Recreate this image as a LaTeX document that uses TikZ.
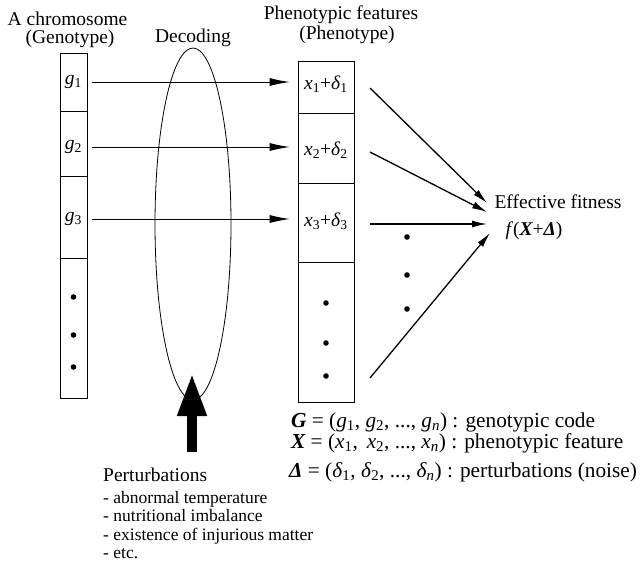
\documentclass[tikz,border=0pt]{standalone}
\usepackage{fontspec}
\setmainfont{Liberation Serif}
\usetikzlibrary{arrows.meta,positioning,shapes.geometric}
\newcommand{\figfont}{\fontsize{19.5}{22}\selectfont}
\newcommand{\legfont}{\fontsize{21.3}{24}\selectfont}
\newcommand{\listfont}{\fontsize{17.5}{18.5}\selectfont}
\newcommand{\iv}[2]{\textit{#1}\textsubscript{#2}}
\newcommand{\bv}[1]{{\bfseries\itshape #1}}

\begin{document}
\begin{tikzpicture}[x=1pt,y=-1pt,
  gcell/.style={draw, line width=0.8pt, inner sep=0pt, minimum width=27pt},
  pcell/.style={draw, line width=0.8pt, inner sep=0pt, minimum width=56pt},
  lbl/.style={font=\figfont, inner sep=0pt},
  leg/.style={font=\legfont, inner sep=0pt, anchor=west,
    text height=14pt, text depth=5pt},
  map/.style={-{Latex[length=20pt,width=8pt]}, line width=0.8pt,
    shorten <=5pt, shorten >=8pt},
  fitarrow/.style={-{Latex[length=15pt,width=7pt]}, line width=1.3pt},
  pertarrow/.style={-{Triangle[length=43pt,width=27pt]}, line width=10pt},
]
  \useasboundingbox (0,0) rectangle (640,565);

  % genotype column
  \node[gcell, minimum height=58pt] (gc1) at (73.5,82) {};
  \node[gcell, minimum height=65pt] (gc2) at (73.5,143.5) {};
  \node[gcell, minimum height=82pt] (gc3) at (73.5,217) {};
  \node[gcell, minimum height=140pt] (gc4) at (73.5,328) {};
  \node[lbl] (g1) at (73.5,82) {\iv{g}{1}};
  \node[lbl] (g2) at (73.5,147) {\iv{g}{2}};
  \node[lbl] (g3) at (73.5,219) {\iv{g}{3}};
  \foreach \y in {297,335,367} \fill (73.5,\y) circle (2.8pt);

  % phenotype column
  \node[pcell, minimum height=52pt] (pc1) at (326,87) {};
  \node[pcell, minimum height=70pt] (pc2) at (326,148) {};
  \node[pcell, minimum height=79pt] (pc3) at (326,222.5) {};
  \node[pcell, minimum height=140pt] (pc4) at (326,332) {};
  \node[lbl] (p1) at (326,84) {\iv{x}{1}+\iv{δ}{1}};
  \node[lbl] (p2) at (326,150) {\iv{x}{2}+\iv{δ}{2}};
  \node[lbl] (p3) at (326,221) {\iv{x}{3}+\iv{δ}{3}};
  \foreach \y in {303,343,376} \fill (326,\y) circle (2.8pt);

  % decoding
  \node[draw, ellipse, line width=0.8pt, inner sep=0pt,
    minimum width=76pt, minimum height=352pt] (dec) at (193,224) {};
  \draw[map] (gc1.east |- g1) -- (pc1.west |- g1);
  \draw[map] (gc2.east |- g2) -- (pc2.west |- g2);
  \draw[map] (gc3.east |- g3) -- (pc3.west |- g3);

  % headings
  \node[lbl] (chrom) at (67.5,19) {A chromosome};
  \node[lbl] (geno) at (70,39) {(Genotype)};
  \node[lbl] (deco) at (193,38) {Decoding};
  \node[lbl] (phfeat) at (341,15) {Phenotypic features};
  \node[lbl] (pheno) at (347,35) {(Phenotype)};

  % fitness
  \node[lbl] (fit) at (558,202) {Effective fitness};
  \node[lbl] (fx) at (534,231) {\textit{f}(\bv{X}+\bv{Δ})};
  \coordinate (s1) at (370,88);  \coordinate (t1) at (487,203);
  \coordinate (s2) at (370,152); \coordinate (t2) at (487,212);
  \coordinate (s3) at (370,224); \coordinate (t3) at (487,224);
  \coordinate (s4) at (370,378); \coordinate (t4) at (490,233);
  \foreach \i in {1,...,4} \draw[fitarrow] (s\i) -- (t\i);
  \foreach \y in {237,275,309} \fill (407,\y) circle (2.8pt);

  % perturbations
  \coordinate (pbase) at (192,452);
  \coordinate (ptip) at (192,373);
  \draw[pertarrow] (pbase) -- (ptip);
  \node[lbl, anchor=west] (pert) at (103,475) {Perturbations};
  \node[anchor=north west, align=left, inner sep=0pt, font=\listfont]
    (plist) at (103,491) {- abnormal temperature\\- nutritional imbalance\\
    - existence of injurious matter\\- etc.};

  % notation
  \node[leg] (leg1) at (291,423)
    {\bv{G} = (\iv{g}{1}, \iv{g}{2}, ..., \iv{g}{\textit{n}}) : genotypic code};
  \node[leg] (leg2) at (291,444)
    {\bv{X} = (\iv{x}{1},\, \iv{x}{2}, ..., \iv{x}{\textit{n}}) : phenotypic feature};
  \node[leg] (leg3) at (289,473)
    {\bv{Δ} = (\iv{δ}{1}, \iv{δ}{2}, ..., \iv{δ}{\textit{n}}) : perturbations (noise)};
\end{tikzpicture}
\end{document}
